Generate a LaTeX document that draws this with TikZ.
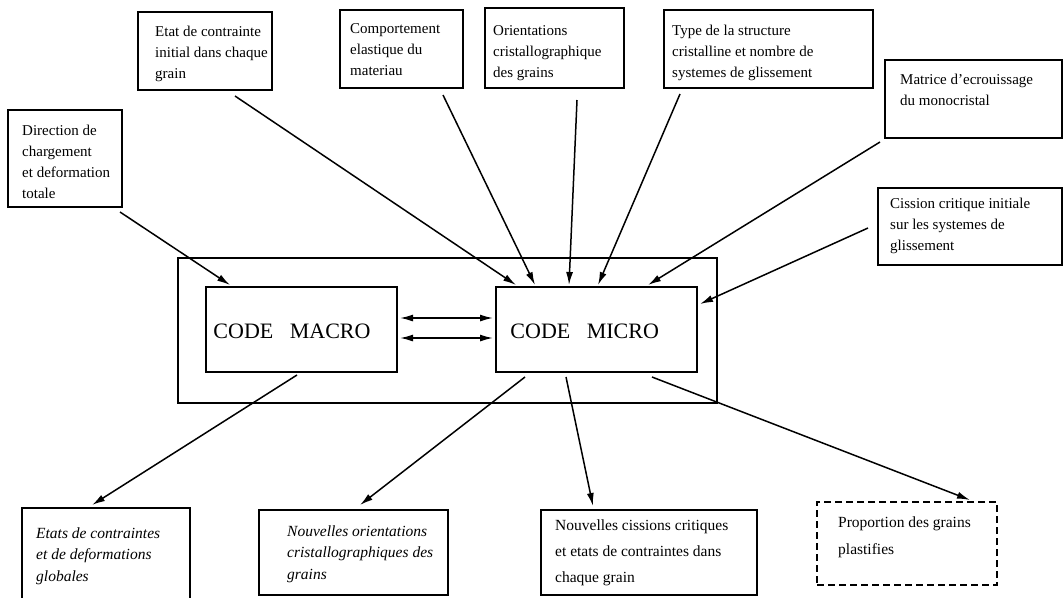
\documentclass[tikz,border=0pt]{standalone}
\usepackage{fontspec}
\setmainfont{Liberation Serif}
\usetikzlibrary{arrows.meta,fit}
\begin{document}
\begin{tikzpicture}[x=1pt,y=-1pt,
  box/.style={draw, line width=1.5pt, rectangle, inner sep=0pt},
  dbox/.style={box, dash pattern=on 7pt off 4pt, line width=1.7pt},
  txt/.style={anchor=west, align=left, inner sep=0pt, font=\fontsize{15}{21}\selectfont},
  itxt/.style={txt, font=\fontsize{15.5}{21.5}\selectfont\itshape},
  code/.style={anchor=west, inner sep=0pt, font=\fontsize{22}{24}\selectfont},
  arr/.style={line width=1.5pt, -{Latex[length=13pt,width=7pt]}},
  darr/.style={line width=1.5pt, {Latex[length=13pt,width=7pt]}-{Latex[length=13pt,width=7pt]}}
]
\useasboundingbox (0,0) rectangle (1064,597);
\fill[white] (0,0) rectangle (1064,597);

% top input boxes
\node[box, fit={(8,110) (122,207)}] (dir) {};
\node[txt] (dirT) at (22,162) {Direction de\\chargement\\et deformation\\totale};

\node[box, fit={(138,12) (272,90)}] (etat) {};
\node[txt] (etatT) at (155,54) {Etat de contrainte\\initial dans chaque\\ grain};

\node[box, fit={(340,10) (463,88)}] (comp) {};
\node[txt] (compT) at (350,50) {Comportement\\elastique du\\ materiau};

\node[box, fit={(485,8) (624,88)}] (orient) {};
\node[txt] (orientT) at (493,53) {Orientations\\cristallographique\\des grains};

\node[box, fit={(664,10) (873,88)}] (type) {};
\node[txt] (typeT) at (672,53) {Type de la structure\\cristalline et nombre de\\systemes de glissement};

\node[box, fit={(885,60) (1062,138)}] (matr) {};
\node[txt] (matrT) at (900,90) {Matrice d'ecrouissage\\du monocristal};

\node[box, fit={(878,188) (1062,265)}] (ciss) {};
\node[txt] (cissT) at (890,226) {Cission critique initiale\\sur les systemes de\\glissement};

% central part
\node[box, fit={(178,258) (717,403)}] (outer) {};
\node[box, fit={(206,287) (397,372)}] (macro) {};
\node[box, fit={(496,287) (697,372)}] (micro) {};
\node[code] (macroT) at ([xshift=8pt,yshift=-2pt]macro.west) {CODE\hspace{0.75em}MACRO};
\node[code] (microT) at ([xshift=15pt,yshift=-2pt]micro.west) {CODE\hspace{0.75em}MICRO};

% bottom output boxes
\node[box, fit={(22,508) (190,602)}] (etats) {};
\node[itxt] (etatsT) at (36,556) {Etats de contraintes\\et de deformations\\ globales};

\node[box, fit={(259,510) (448,595)}] (norient) {};
\node[itxt] (norientT) at (287,554) {Nouvelles orientations\\cristallographiques des\\grains};

\node[box, fit={(541,510) (757,595)}] (nciss) {};
\node[txt, font=\fontsize{15.5}{26}\selectfont] (ncissT) at (555,553) {Nouvelles cissions critiques\\et etats de contraintes dans\\chaque grain};

\node[dbox, fit={(817,502) (997,585)}] (prop) {};
\node[txt, font=\fontsize{15.5}{27}\selectfont] (propT) at (838,537) {Proportion des grains\\ plastifies};

% connector end points
\coordinate (dirS) at (120,212);
\coordinate (macroN) at (230,285);
\coordinate (etatS) at (235,96);
\coordinate (microN1) at (516,285);
\coordinate (compS) at (443,95);
\coordinate (microN2) at (535,285);
\coordinate (orientS) at (577,100);
\coordinate (microN3) at (569,285);
\coordinate (typeS) at (680,94);
\coordinate (microN4) at (598,285);
\coordinate (matrS) at (880,142);
\coordinate (microN5) at (648,285);
\coordinate (cissS) at (868,228);
\coordinate (microE) at (700,304);

\coordinate (macroE1) at (400,318);
\coordinate (microW1) at (493,318);
\coordinate (macroE2) at (400,338);
\coordinate (microW2) at (493,338);

\coordinate (macroS) at (297,375);
\coordinate (etatsN) at (92,505);
\coordinate (microS1) at (525,377);
\coordinate (norientN) at (360,505);
\coordinate (microS2) at (566,377);
\coordinate (ncissN) at (593,506);
\coordinate (microS3) at (652,377);
\coordinate (propN) at (970,500);

% connectors
\draw[arr] (dirS) -- (macroN);
\draw[arr] (etatS) -- (microN1);
\draw[arr] (compS) -- (microN2);
\draw[arr] (orientS) -- (microN3);
\draw[arr] (typeS) -- (microN4);
\draw[arr] (matrS) -- (microN5);
\draw[arr] (cissS) -- (microE);
\draw[darr] (macroE1) -- (microW1);
\draw[darr] (macroE2) -- (microW2);
\draw[arr] (macroS) -- (etatsN);
\draw[arr] (microS1) -- (norientN);
\draw[arr] (microS2) -- (ncissN);
\draw[arr] (microS3) -- (propN);
\end{tikzpicture}
\end{document}
